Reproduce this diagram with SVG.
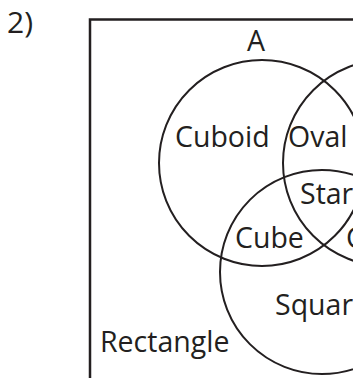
<svg xmlns="http://www.w3.org/2000/svg" width="353" height="378" viewBox="0 0 353 378">
<style>
.ln{fill:none;stroke:#231f20;stroke-width:2}
.fr{fill:none;stroke:#231f20;stroke-width:2.5}
.t{font-family:"Open Sans","Noto Sans",sans-serif;font-size:28.5px;fill:#231f20}
</style>
<rect width="353" height="378" fill="#ffffff"/>
<text id="num" class="t" x="7" y="33" style="font-size:30px">2)</text>
<g id="universe">
<rect class="fr" x="90" y="19.5" width="300" height="400"/>
<text class="t" x="100" y="352">Rectangle</text>
</g>
<g id="setA">
<circle class="ln" cx="262" cy="163" r="103"/>
<text class="t" x="247" y="51">A</text>
</g>
<g id="setB">
<circle class="ln" cx="386" cy="163" r="103"/>
</g>
<g id="setC">
<circle class="ln" cx="322" cy="272" r="102"/>
</g>
<g id="labels">
<text class="t" x="175" y="147">Cuboid</text>
<text class="t" x="288" y="147">Oval</text>
<text class="t" x="300" y="204">Star</text>
<text class="t" x="235" y="248">Cube</text>
<text class="t" x="346" y="248">C</text>
<text class="t" x="275" y="315">Square</text>
</g>
<g id="connectors"/>
</svg>
